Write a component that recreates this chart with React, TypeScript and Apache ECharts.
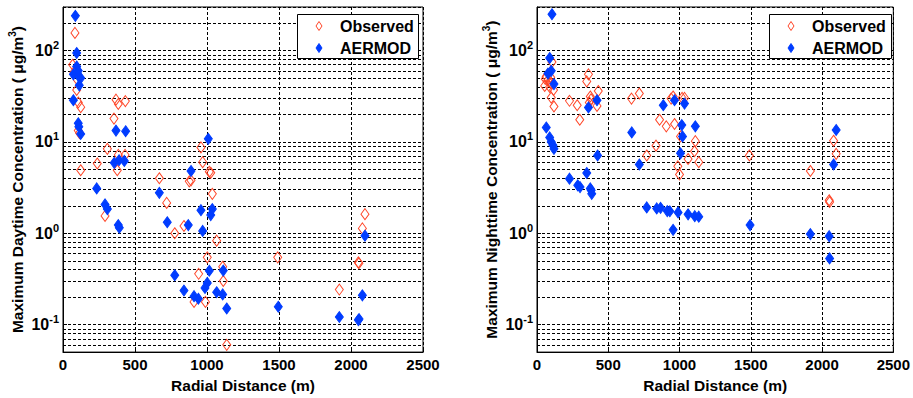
import React, { useEffect, useRef } from "react";
import * as echarts from "echarts";

// Daytime (left panel): [radial distance m, concentration ug/m3]
const dayObserved: number[][] = [
  [83, 156], [67, 70], [76, 58], [99, 48], [95, 37], [106, 27], [123, 24], [106, 13.3], [115, 12.5], [123, 4.9],
  [368, 29], [384, 26], [433, 28], [354, 18], [308, 8.4], [384, 7.2], [431, 7.2], [377, 4.9], [238, 5.8],
  [669, 4.0], [877, 3.7], [889, 3.8], [958, 8.7], [970, 6.0], [1016, 4.7], [1026, 4.6], [1037, 2.7],
  [292, 1.55], [720, 2.15], [776, 1.0], [840, 1.2], [1067, 0.83], [1002, 0.545], [942, 0.36], [1109, 0.43],
  [1113, 0.30], [910, 0.177], [989, 0.177], [1137, 0.060], [1491, 0.545], [1919, 0.242], [2051, 0.48],
  [2055, 0.47], [2079, 1.13], [2097, 1.62],
];
const dayAermod: number[][] = [
  [86, 240], [95, 94], [95, 67], [72, 55], [113, 51], [123, 50], [106, 60], [113, 41.6], [72, 28.6], [106, 16],
  [110, 14.7], [123, 12.2], [368, 13.3], [435, 13.1], [1009, 10.8], [356, 5.9], [389, 6.3], [426, 6.2],
  [889, 4.8], [234, 3.1], [669, 2.77], [292, 2.07], [308, 1.84], [384, 1.23], [391, 1.15], [724, 1.32],
  [870, 1.23], [958, 1.79], [1026, 1.58], [1037, 1.84], [970, 1.06], [776, 0.347], [840, 0.236], [910, 0.205],
  [940, 0.192], [986, 0.252], [1002, 0.286], [1016, 0.389], [1067, 0.226], [1109, 0.214], [1113, 0.39],
  [1137, 0.150], [1495, 0.157], [1919, 0.121], [2051, 0.112], [2056, 0.115], [2079, 0.209], [2097, 0.94],
];

// Nighttime (right panel)
const nightObserved: number[][] = [
  [54, 41], [58, 49], [65, 52], [75, 47], [89, 40], [89, 46], [96, 51], [100, 44], [105, 75], [116, 37],
  [100, 30.6], [119, 24.4], [228, 28.2], [282, 25.2], [300, 17.5], [349, 46], [361, 55], [374, 31.4],
  [379, 29.3], [367, 27], [421, 24.8], [430, 36.1], [663, 29.8], [718, 33.9], [770, 7.1], [835, 9.1],
  [860, 17.5], [907, 14.8], [965, 15.7], [941, 29.8], [955, 31.4], [988, 5.4], [1000, 4.4], [1007, 11.5],
  [1018, 30.3], [1035, 30.3], [1060, 6.5], [1105, 7.9], [1111, 10.2], [1135, 6.0], [1490, 7.1], [1918, 4.8],
  [2081, 10.3], [2099, 7.4], [2053, 2.2], [2050, 2.3],
];
const nightAermod: number[][] = [
  [105, 250], [89, 83], [77, 56], [100, 60], [119, 43], [65, 14.4], [89, 11.2], [100, 10], [112, 9.2],
  [119, 8.4], [361, 23.8], [421, 28.6], [425, 7.1], [665, 12.7], [718, 5.66], [886, 25.2], [965, 28.6],
  [1035, 26.3], [1016, 15.3], [1021, 11.5], [1007, 7.5], [1111, 14.8], [2099, 13.5], [2081, 5.66],
  [228, 3.96], [286, 3.35], [302, 3.2], [349, 4.57], [374, 3.1], [380, 2.95], [384, 2.7], [770, 1.92],
  [840, 1.87], [867, 1.9], [914, 1.75], [932, 1.74], [990, 1.69], [1060, 1.61], [1107, 1.54], [1135, 1.52],
  [955, 1.09], [1495, 1.23], [1918, 0.98], [2050, 0.93], [2053, 0.53],
];

const xTicks = { min: 0, max: 2500, interval: 500 };
const yRange = { min: 0.05, max: 300 };
const minorGrid: number[] = [
  0.06, 0.07, 0.08, 0.09,
  0.2, 0.3, 0.4, 0.5, 0.6, 0.7, 0.8, 0.9,
  2, 3, 4, 5, 6, 7, 8, 9,
  20, 30, 40, 50, 60, 70, 80, 90,
  200,
];
const legendNames = ["Observed", "AERMOD"];
const yTitles = ["Maximum Daytime Concentration ( μg/m", "Maximum Nighttime Concentration ( μg/m"];
const xTitle = "Radial Distance (m)";

const FONT = "'Liberation Sans', Arial, sans-serif";
const RED = "#ff4527";
const BLUE = "#003cff";
const DASH = [3, 2];

function diamond(cx: number, cy: number, w: number, h: number) {
  return [
    [cx, cy - h / 2],
    [cx + w / 2, cy],
    [cx, cy + h / 2],
    [cx - w / 2, cy],
  ];
}

function legendBox(x: number, y: number, w: number, h: number) {
  const mx = x + 22;
  const tx = x + 43;
  const r1 = y + 12;
  const r2 = y + 34;
  const Z = 200;
  const textStyle = { fontFamily: FONT, fontWeight: "bold", fontSize: 16, font: `bold 16px ${FONT}`, fill: "#000", verticalAlign: "middle", align: "left" };
  return [
    { type: "rect", z: Z, shape: { x: x + 0.5, y: y + 0.5, width: w, height: h }, style: { fill: "#ffffff", stroke: "#000", lineWidth: 1 } },
    { type: "polygon", z: Z + 1, shape: { points: diamond(mx, r1, 6, 9) }, style: { fill: "#ffffff", stroke: RED, lineWidth: 1 } },
    { type: "polygon", z: Z + 1, shape: { points: diamond(mx, r2, 6, 9) }, style: { fill: BLUE, stroke: BLUE, lineWidth: 1 } },
    { type: "text", z: Z + 1, x: tx, y: r1, style: { ...textStyle, text: legendNames[0] } },
    { type: "text", z: Z + 1, x: tx, y: r2, style: { ...textStyle, text: legendNames[1] } },
  ];
}

export default function App() {
  const ref = useRef<HTMLDivElement>(null);
  useEffect(() => {
    if (!ref.current) return;
    const chart = echarts.init(ref.current, null, { renderer: "svg" });
    const grids = [
      { left: 63, top: 7, width: 360, height: 349 },
      { left: 537, top: 7, width: 358, height: 349 },
    ];
    const datasets = [
      [dayObserved, dayAermod],
      [nightObserved, nightAermod],
    ];
    const xAxis: any[] = [];
    const yAxis: any[] = [];
    const series: any[] = [];
    grids.forEach((g, i) => {
      xAxis.push({
        gridIndex: i,
        type: "value",
        min: xTicks.min,
        max: xTicks.max,
        interval: xTicks.interval,
        name: xTitle,
        nameLocation: "middle",
        nameGap: 20,
        nameTextStyle: { fontFamily: FONT, fontWeight: "bold", fontSize: 15.5, color: "#000" },
        axisLine: { lineStyle: { color: "#000", width: 1 } },
        axisTick: { inside: true, length: 4, lineStyle: { color: "#000" } },
        axisLabel: {
          fontFamily: FONT, fontWeight: "bold", fontSize: 15, color: "#000", margin: 5,
          formatter: (v: number) => String(v),
        },
        splitLine: { show: true, lineStyle: { color: "#000", type: DASH, width: 1 } },
      });
      yAxis.push({
        gridIndex: i,
        type: "log",
        logBase: 10,
        min: yRange.min,
        max: yRange.max,
        name: `{a|${yTitles[i]}}{s|3}{a|)}`,
        nameLocation: "middle",
        nameGap: 36,
        nameTextStyle: {
          rich: {
            a: { fontFamily: FONT, fontWeight: "bold", fontSize: 15.5, color: "#000", lineHeight: 20 },
            s: { fontFamily: FONT, fontWeight: "bold", fontSize: 10, color: "#000", lineHeight: 10, verticalAlign: "top" },
          },
        },
        axisLine: { lineStyle: { color: "#000", width: 1 } },
        axisTick: { inside: true, length: 4, lineStyle: { color: "#000" } },
        axisLabel: {
          showMinLabel: false,
          showMaxLabel: false,
          margin: 4,
          formatter: (v: number) => {
            const l = Math.log10(v);
            const r = Math.round(l);
            if (Math.abs(l - r) > 1e-6) return "";
            return `{b|10}{s|${r}}`;
          },
          rich: {
            b: { fontFamily: FONT, fontWeight: "bold", fontSize: 16, color: "#000", lineHeight: 22 },
            s: { fontFamily: FONT, fontWeight: "bold", fontSize: 11, color: "#000", lineHeight: 11, verticalAlign: "top" },
          },
        },
        splitLine: { show: true, lineStyle: { color: "#000", type: DASH, width: 1 } },
      });
      series.push({
        type: "line",
        name: "grid" + i,
        xAxisIndex: i,
        yAxisIndex: i,
        data: [],
        silent: true,
        z: 1,
        markLine: {
          silent: true,
          symbol: "none",
          z: 1,
          label: { show: false },
          lineStyle: { color: "#000", type: DASH, width: 1 },
          data: minorGrid.map((v) => ({ yAxis: v })),
        },
      });
      series.push({
        type: "scatter",
        name: legendNames[0],
        xAxisIndex: i,
        yAxisIndex: i,
        symbol: "diamond",
        symbolSize: [8, 11],
        z: 3,
        itemStyle: { color: "rgba(255,255,255,0)", borderColor: RED, borderWidth: 1, opacity: 1 },
        data: datasets[i][0],
      });
      series.push({
        type: "scatter",
        name: legendNames[1],
        xAxisIndex: i,
        yAxisIndex: i,
        symbol: "diamond",
        symbolSize: [8, 11],
        z: 4,
        itemStyle: { color: BLUE, borderColor: BLUE, borderWidth: 1, opacity: 1 },
        data: datasets[i][1],
      });
    });
    chart.setOption({
      animation: false,
      backgroundColor: "#fff",
      grid: grids.map((g) => ({ ...g, show: true, borderColor: "#000", borderWidth: 1, backgroundColor: "transparent" })),
      xAxis,
      yAxis,
      series,
      graphic: { elements: [...legendBox(297, 14, 121, 44), ...legendBox(769, 14, 122, 44)] },
    });
    return () => chart.dispose();
  }, []);
  return (
    <div
      ref={ref}
      style={{ position: "fixed", left: 0, top: 0, width: 913, height: 398, background: "#fff" }}
    />
  );
}
